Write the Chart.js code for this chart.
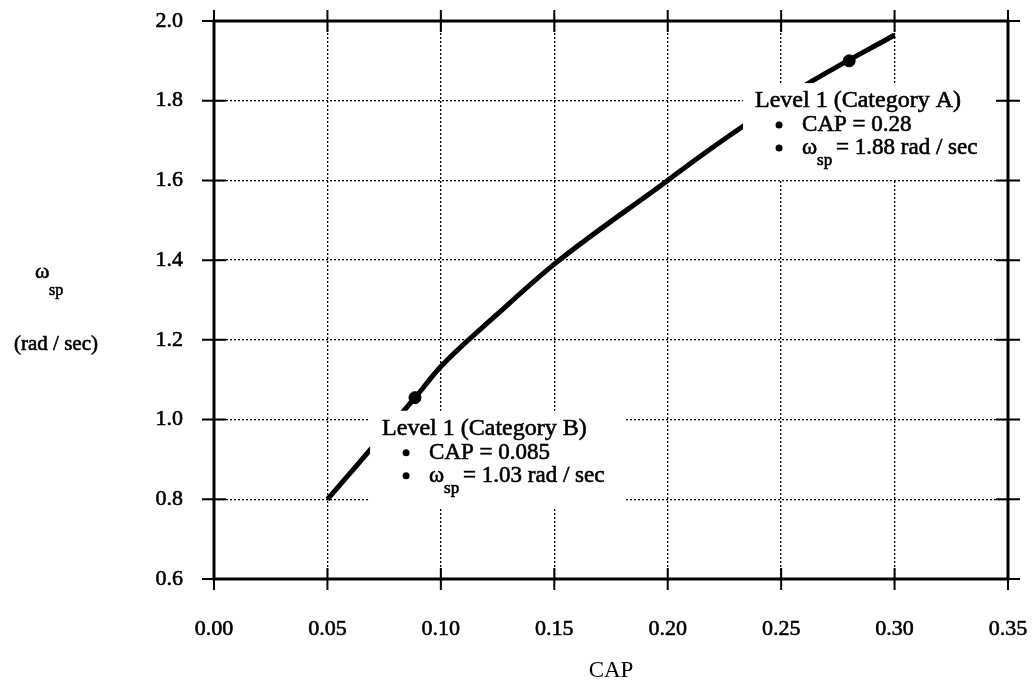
<!DOCTYPE html>
<html>
<head>
<meta charset="utf-8">
<script src="https://cdn.jsdelivr.net/npm/chart.js@4.4.1/dist/chart.umd.min.js"></script>
<style>
  html, body { margin: 0; padding: 0; background: #fff; }
</style>
</head>
<body>
<canvas id="capChart" width="1036" height="687"></canvas>
<script>
// omega_sp vs CAP, Level 1 boundary curve

const capValues   = [0.05, 0.0886, 0.10, 0.125, 0.15, 0.20, 0.2142, 0.2332, 0.25, 0.2636, 0.30];
const omegaValues = [0.80, 1.055, 1.133, 1.265, 1.39, 1.60, 1.66, 1.736, 1.80, 1.849, 1.965];

const markerCap   = [0.0886, 0.28];
const markerOmega = [1.055, 1.90];

const xTickValues = [0.00, 0.05, 0.10, 0.15, 0.20, 0.25, 0.30, 0.35];
const yTickValues = [0.6, 0.8, 1.0, 1.2, 1.4, 1.6, 1.8, 2.0];

// annotation anchors (data units) and their text
const noteAnchorCap   = [0.2385, 0.0741];
const noteAnchorOmega = [1.784, 0.962];
const noteTitles      = ['Level 1 (Category A)', 'Level 1 (Category B)'];
const noteCapText     = ['CAP = 0.28', 'CAP = 0.085'];
const noteOmegaText   = ['= 1.88 rad / sec', '= 1.03 rad / sec'];

const SERIF = '"Liberation Serif", "Times New Roman", serif';

// filled text with a thin outline, to get the heavier print look
function heavyText(ctx, str, x, y) {
  ctx.fillText(str, x, y);
  ctx.strokeText(str, x, y);
}

const decorPlugin = {
  id: 'decor',
  afterDatasetsDraw(chart) {
    const { ctx, scales } = chart;
    const xs = scales.x, ys = scales.y;
    ctx.save();
    ctx.strokeStyle = '#000';
    ctx.lineWidth = 0.6;
    for (let i = 0; i < noteTitles.length; i++) {
      const ax = xs.getPixelForValue(noteAnchorCap[i]);
      const ay = ys.getPixelForValue(noteAnchorOmega[i]);
      // white label box hides the curve and grid behind it
      ctx.fillStyle = '#fff';
      ctx.fillRect(ax - 12, ay - 24, 256, 97);

      ctx.fillStyle = '#000';
      ctx.textBaseline = 'alphabetic';
      ctx.textAlign = 'left';
      ctx.font = '24px ' + SERIF;
      heavyText(ctx, noteTitles[i], ax, ay);

      // bullets
      ctx.beginPath();
      ctx.arc(ax + 24, ay + 18, 3.5, 0, Math.PI * 2);
      ctx.arc(ax + 24, ay + 41, 3.5, 0, Math.PI * 2);
      ctx.fill();

      ctx.font = '23px ' + SERIF;
      heavyText(ctx, noteCapText[i], ax + 47, ay + 24);
      heavyText(ctx, '\u03c9', ax + 47, ay + 47);
      ctx.font = '17px ' + SERIF;
      heavyText(ctx, 'sp', ax + 62, ay + 58);
      ctx.font = '23px ' + SERIF;
      heavyText(ctx, noteOmegaText[i], ax + 81, ay + 47);
    }
    ctx.restore();
  },
  afterDraw(chart) {
    const { ctx, chartArea: a, scales } = chart;
    const xs = scales.x, ys = scales.y;
    ctx.save();
    ctx.strokeStyle = '#000';

    // cross ticks on all four sides
    ctx.lineWidth = 2;
    ctx.beginPath();
    xTickValues.forEach((v) => {
      const px = xs.getPixelForValue(v);
      ctx.moveTo(px, a.bottom - 11); ctx.lineTo(px, a.bottom + 11);
      ctx.moveTo(px, a.top - 11); ctx.lineTo(px, a.top + 11);
    });
    yTickValues.forEach((v) => {
      const py = ys.getPixelForValue(v);
      ctx.moveTo(a.left - 12, py); ctx.lineTo(a.left + 12, py);
      ctx.moveTo(a.right - 12, py); ctx.lineTo(a.right + 12, py);
    });
    ctx.stroke();

    // frame
    ctx.lineWidth = 3;
    ctx.strokeRect(a.left, a.top, a.right - a.left, a.bottom - a.top);

    // y axis title: omega_sp (rad / sec)
    ctx.lineWidth = 0.6;
    ctx.fillStyle = '#000';
    ctx.textBaseline = 'alphabetic';
    ctx.textAlign = 'left';
    ctx.font = '22px ' + SERIF;
    heavyText(ctx, '\u03c9', 35, 278);
    ctx.font = '16px ' + SERIF;
    heavyText(ctx, 'sp', 49, 295);
    ctx.font = '21px ' + SERIF;
    ctx.textAlign = 'center';
    ctx.textBaseline = 'middle';
    heavyText(ctx, '(rad / sec)', 56, 344);
    ctx.restore();
  }
};

const tickFont = { family: SERIF, size: 22 };

new Chart(document.getElementById('capChart'), {
  type: 'line',
  data: {
    datasets: [
      {
        label: 'Level 1 boundary',
        data: capValues.map((c, i) => ({ x: c, y: omegaValues[i] })),
        borderColor: '#000',
        borderWidth: 5,
        pointRadius: 0,
        cubicInterpolationMode: 'monotone',
        fill: false
      },
      {
        label: 'Category points',
        type: 'scatter',
        data: markerCap.map((c, i) => ({ x: c, y: markerOmega[i] })),
        backgroundColor: '#000',
        borderColor: '#000',
        pointRadius: 6,
        showLine: false
      }
    ]
  },
  options: {
    responsive: false,
    animation: false,
    devicePixelRatio: 1,
    layout: { padding: { left: 0, right: 28, top: 21, bottom: 0 } },
    plugins: {
      legend: { display: false },
      tooltip: { enabled: false }
    },
    scales: {
      x: {
        type: 'linear',
        min: 0,
        max: 0.35,
        afterBuildTicks: (s) => { s.ticks = xTickValues.map((v) => ({ value: v })); },
        afterFit: (s) => { s.height = 108; s.paddingLeft = 0; s.paddingRight = 0; },
        ticks: {
          color: '#000',
          font: tickFont,
          padding: 37,
          maxRotation: 0,
          autoSkip: false,
          textStrokeColor: '#000',
          textStrokeWidth: 0.6,
          callback: (v) => Number(v).toFixed(2)
        },
        grid: { color: '#000', lineWidth: 1.3, drawTicks: false },
        border: { display: false, dash: [2, 2] },
        title: {
          display: true,
          text: 'CAP',
          color: '#000',
          font: { family: SERIF, size: 23 },
          padding: { top: 0, bottom: 2 }
        }
      },
      y: {
        type: 'linear',
        min: 0.6,
        max: 2.0,
        afterBuildTicks: (s) => { s.ticks = yTickValues.map((v) => ({ value: v })); },
        afterFit: (s) => { s.width = 214; s.paddingTop = 0; s.paddingBottom = 0; },
        ticks: {
          color: '#000',
          font: tickFont,
          padding: 31,
          autoSkip: false,
          textStrokeColor: '#000',
          textStrokeWidth: 0.6,
          callback: (v) => Number(v).toFixed(1)
        },
        grid: { color: '#000', lineWidth: 1.3, drawTicks: false },
        border: { display: false, dash: [2, 2] }
      }
    }
  },
  plugins: [decorPlugin]
});
</script>
</body>
</html>
